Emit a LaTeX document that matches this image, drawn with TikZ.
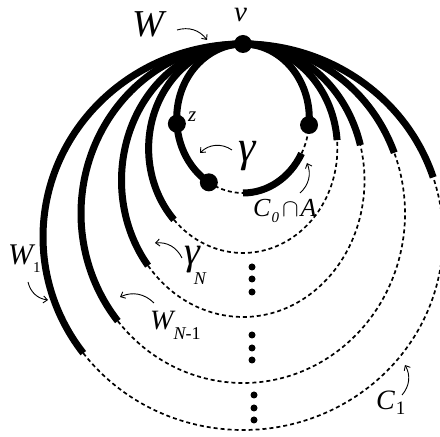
\documentclass[tikz,border=0pt]{standalone}
\usepackage{fontspec}
\setmainfont{Liberation Serif}
\usetikzlibrary{arrows.meta}

\newcommand{\fs}[1]{\fontsize{#1}{#1}\selectfont}

\tikzset{
  solidarc/.style={line width=7pt},
  dasharc/.style={line width=1.7pt, dash pattern=on 4pt off 3pt},
  pin/.style={-{Straight Barb[length=4pt,width=7pt]}, line width=0.9pt},
  bigdot/.style={circle, fill, inner sep=0pt, minimum size=18pt},
  smalldot/.style={circle, fill, inner sep=0pt, minimum size=7pt},
  lbl/.style={inner sep=0pt, anchor=base west},
}

% loop: centre, x radius, y radius, right end angle, left end angle
\newcommand{\sweep}[5]{%
  \draw[dasharc] ([shift={(#5:#2 and #3)}]#1) arc[start angle=#5, end angle=#4+360, x radius=#2, y radius=#3];
  \draw[solidarc] ([shift={(#4:#2 and #3)}]#1) arc[start angle=#4, end angle=#5, x radius=#2, y radius=#3];
}

\begin{document}
\begin{tikzpicture}[x=1pt, y=1pt]
  \useasboundingbox (0,0) rectangle (440,437);
  \clip (0,0) rectangle (440,437);

  % centres of the loops
  \coordinate (c0) at (243,318.5);
  \coordinate (c2) at (243,288.5);
  \coordinate (c3) at (243,256.5);
  \coordinate (c4) at (243,223.5);
  \coordinate (c1) at (243,200);

  % outer loops, C_1 first
  \sweep{c1}{200}{193}{18}{217}
  \sweep{c4}{162}{169.5}{21}{219.4}
  \sweep{c3}{121.5}{136.5}{15}{218.6}
  \sweep{c2}{94.4}{104.5}{4.6}{223}

  % inner loop C_0
  \draw[dasharc] ([shift={(-121:66.3 and 74.5)}]c0) arc[start angle=-121, end angle=-90, x radius=66.3, y radius=74.5];
  \draw[dasharc] ([shift={(-28:66.3 and 74.5)}]c0) arc[start angle=-28, end angle=-5, x radius=66.3, y radius=74.5];
  \draw[solidarc] ([shift={(-90:66.3 and 74.5)}]c0) arc[start angle=-90, end angle=-28, x radius=66.3, y radius=74.5];
  \draw[solidarc] ([shift={(-5:66.3 and 74.5)}]c0) arc[start angle=-5, end angle=239, x radius=66.3, y radius=74.5];

  % marked points
  \node[bigdot] (v) at ([shift={(90:66.3 and 74.5)}]c0) {};
  \node[bigdot] (z) at ([shift={(184:66.3 and 74.5)}]c0) {};
  \node[bigdot] (p) at ([shift={(-5:66.3 and 74.5)}]c0) {};
  \node[bigdot] (q) at ([shift={(239:66.3 and 74.5)}]c0) {};

  % vertical dots
  \foreach \yy [count=\i] in {170,158,145,102,89,77}
    \node[smalldot] (d\i) at (252,\yy) {};
  \foreach \yy [count=\i from 7] in {42,29,17}
    \node[smalldot] (d\i) at (254,\yy) {};

  % labels
  \node[lbl, font=\fs{38}\itshape] (lW) at (132,400) {W};
  \node[lbl, font=\fs{29}\itshape] (lv) at (234,415) {v};
  \node[lbl, font=\fs{21}\itshape] (lz) at (188,315) {z};
  \node[lbl, font=\fs{44}\itshape] (lgam) at (238,275) {γ};
  \node[lbl, font=\fs{26}\itshape] (lcap) at (253,220)
    {C\kern1pt\raisebox{-6pt}{\fs{15}0}\kern3pt$\cap$\kern2pt A};
  \node[lbl, font=\fs{40}\itshape] (lgamN) at (184,172)
    {γ\kern-6pt\raisebox{-20pt}{\fs{18}N}};
  \node[lbl, font=\fs{28}\itshape] (lWN) at (150,107)
    {W\raisebox{-10pt}{\fs{18}N\upshape -1}};
  \node[lbl, font=\fs{30}\itshape] (lW1) at (8,172)
    {W\raisebox{-8pt}{\fs{15}\upshape 1}};
  \node[lbl, font=\fs{28}\itshape] (lC1) at (376,27)
    {C\kern1pt\raisebox{-5pt}{\fs{19}\upshape 1}};

  % arrow ends
  \coordinate (sW) at (177,407);    \coordinate (tW) at (207,397);
  \coordinate (sgam) at (232,287);  \coordinate (tgam) at (200,284);
  \coordinate (scap) at (300,244);  \coordinate (tcap) at (307,274);
  \coordinate (sgamN) at (182,179); \coordinate (tgamN) at (155,194);
  \coordinate (sWN) at (154,134);   \coordinate (tWN) at (120,140);
  \coordinate (sW1) at (28,155);    \coordinate (tW1) at (48,137);
  \coordinate (sC1) at (402,42);    \coordinate (tC1) at (405,72);

  % pointers
  \draw[pin] (sW) to[bend left=35] (tW);
  \draw[pin] (sgam) to[bend right=40] (tgam);
  \draw[pin] (scap) to[bend right=35] (tcap);
  \draw[pin] (sgamN) to[bend right=35] (tgamN);
  \draw[pin] (sWN) to[bend right=35] (tWN);
  \draw[pin] (sW1) to[bend right=35] (tW1);
  \draw[pin] (sC1) to[bend right=35] (tC1);
\end{tikzpicture}
\end{document}
